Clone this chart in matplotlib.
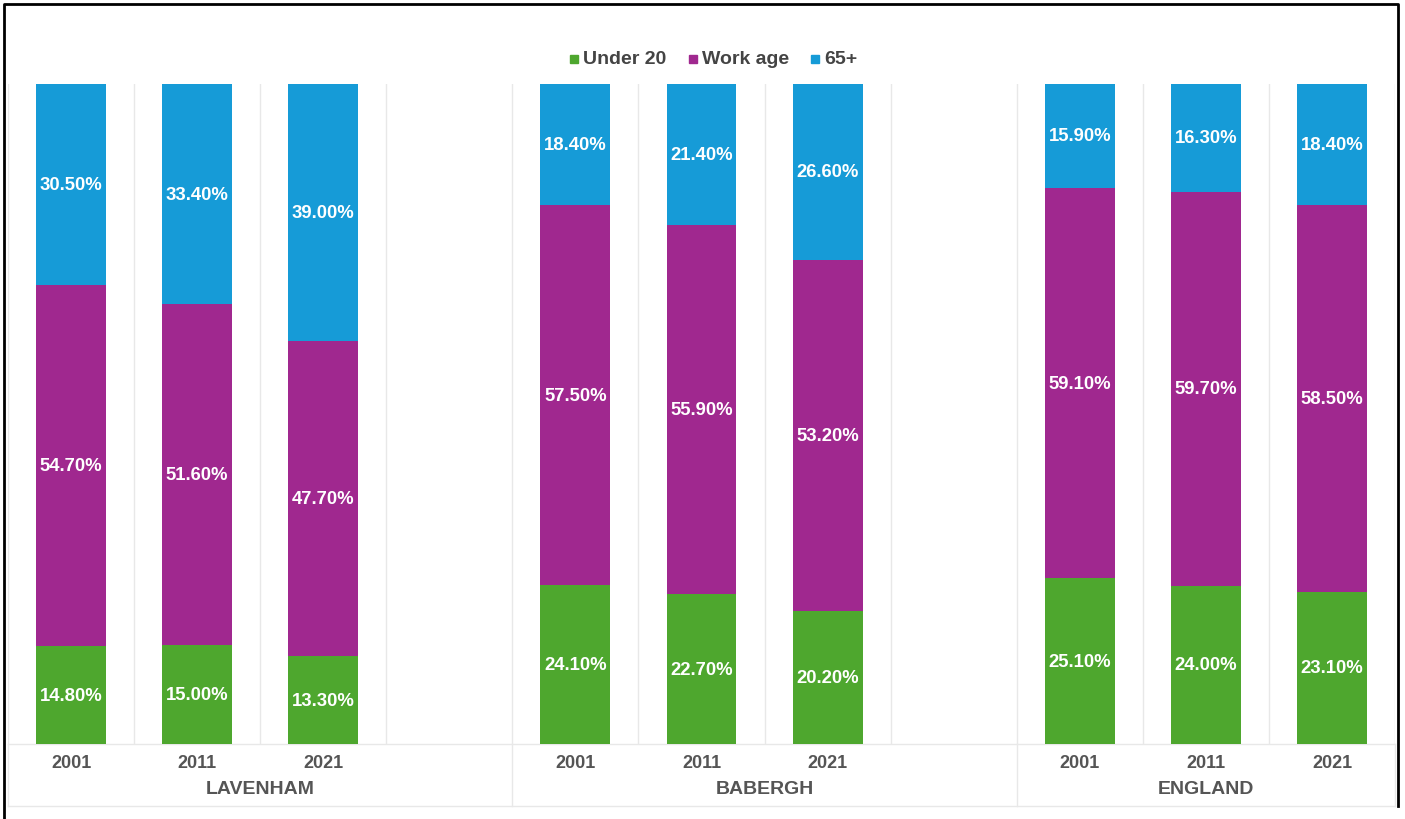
import matplotlib
matplotlib.use("Agg")
import matplotlib.pyplot as plt
from matplotlib.lines import Line2D
import numpy as np

plt.rcParams['font.family'] = ['Liberation Sans', 'DejaVu Sans']

# Population shares by age band (%)
groups = ["LAVENHAM", "BABERGH", "ENGLAND"]
years = ["2001", "2011", "2021"]
series_names = ["Under 20", "Work age", "65+"]

under20 = [14.8, 15.0, 13.3, 24.1, 22.7, 20.2, 25.1, 24.0, 23.1]
work_age = [54.7, 51.6, 47.7, 57.5, 55.9, 53.2, 59.1, 59.7, 58.5]
over65 = [30.5, 33.4, 39.0, 18.4, 21.4, 26.6, 15.9, 16.3, 18.4]

colors = ["#4EA72E", "#A0288F", "#169BD7"]
grid_col = "#E8E8E8"
text_col = "#555555"

W, H = 1405, 820
fig = plt.figure(figsize=(W / 100, H / 100), dpi=100)
ax = fig.add_axes([8 / W, 1 - 745 / H, (1395 - 8) / W, (745 - 85) / H])

# Three bars per group, with an empty slot between groups
slots_per_group = 4
x = np.array([g * slots_per_group + i for g in range(len(groups)) for i in range(len(years))], dtype=float)
bar_w = 0.555

bottom = np.zeros(len(x))
for vals, col in zip([under20, work_age, over65], colors):
    vals = np.array(vals)
    ax.bar(x, vals, bar_w, bottom=bottom, color=col, linewidth=0, zorder=3)
    for xi, b, v in zip(x, bottom, vals):
        ax.text(xi, b + v / 2, f"{v:.2f}%", ha="center", va="center",
                color="white", fontsize=13.3, fontweight="bold", zorder=4)
    bottom += vals

n_slots = len(groups) * slots_per_group - 1
ax.set_xlim(-0.5, n_slots - 0.5)
ax.set_ylim(0, 100)

# Pane dividers
trans = ax.get_xaxis_transform()
bounds = np.arange(-0.5, n_slots, 1.0)
group_bounds = [-0.5] + [g * slots_per_group - 0.5 for g in range(1, len(groups))] + [n_slots - 0.5]
for bx in bounds:
    ax.axvline(bx, color=grid_col, lw=1, zorder=1)
for bx in group_bounds:
    ax.plot([bx, bx], [-0.094, 0], transform=trans, color=grid_col, lw=1,
            clip_on=False, zorder=1)
ax.plot([-0.5, n_slots - 0.5], [0, 0], transform=trans, color=grid_col, lw=1,
        clip_on=False, zorder=2)
ax.plot([-0.5, n_slots - 0.5], [-0.094, -0.094], transform=trans, color=grid_col, lw=1,
        clip_on=False, zorder=2)

for s in ax.spines.values():
    s.set_visible(False)
ax.set_yticks([])
ax.set_xticks(x)
ax.set_xticklabels(years * len(groups), fontsize=13, fontweight="bold", color=text_col)
ax.tick_params(axis="x", length=0, pad=7)

# Group headers below the year labels
for g, name in enumerate(groups):
    lo = group_bounds[g]
    hi = group_bounds[g + 1]
    ax.text((lo + hi) / 2, -0.068, name, transform=trans, ha="center", va="center",
            fontsize=14, fontweight="bold", color=text_col)

# Legend
handles = [Line2D([], [], marker="s", linestyle="none", markersize=6,
                  markerfacecolor=c, markeredgecolor=c) for c in colors]
leg = fig.legend(handles, series_names, loc="center", bbox_to_anchor=(713 / W, 1 - 60 / H),
                 ncol=3, frameon=False, handletextpad=0.25, columnspacing=1.5,
                 handlelength=0.8, borderpad=0)
for t in leg.get_texts():
    t.set_fontsize(14)
    t.set_fontweight("bold")
    t.set_color("#444444")

# Outer frame (open at the bottom)
fx0, fx1, fy1 = 4 / W, 1398 / W, 1 - 5 / H
fig.add_artist(Line2D([fx0, fx0, fx1, fx1], [0, fy1, fy1, 1 - 807 / H],
                      transform=fig.transFigure, color="black", lw=2))

fig.savefig("out.png", dpi=100, facecolor="white")
